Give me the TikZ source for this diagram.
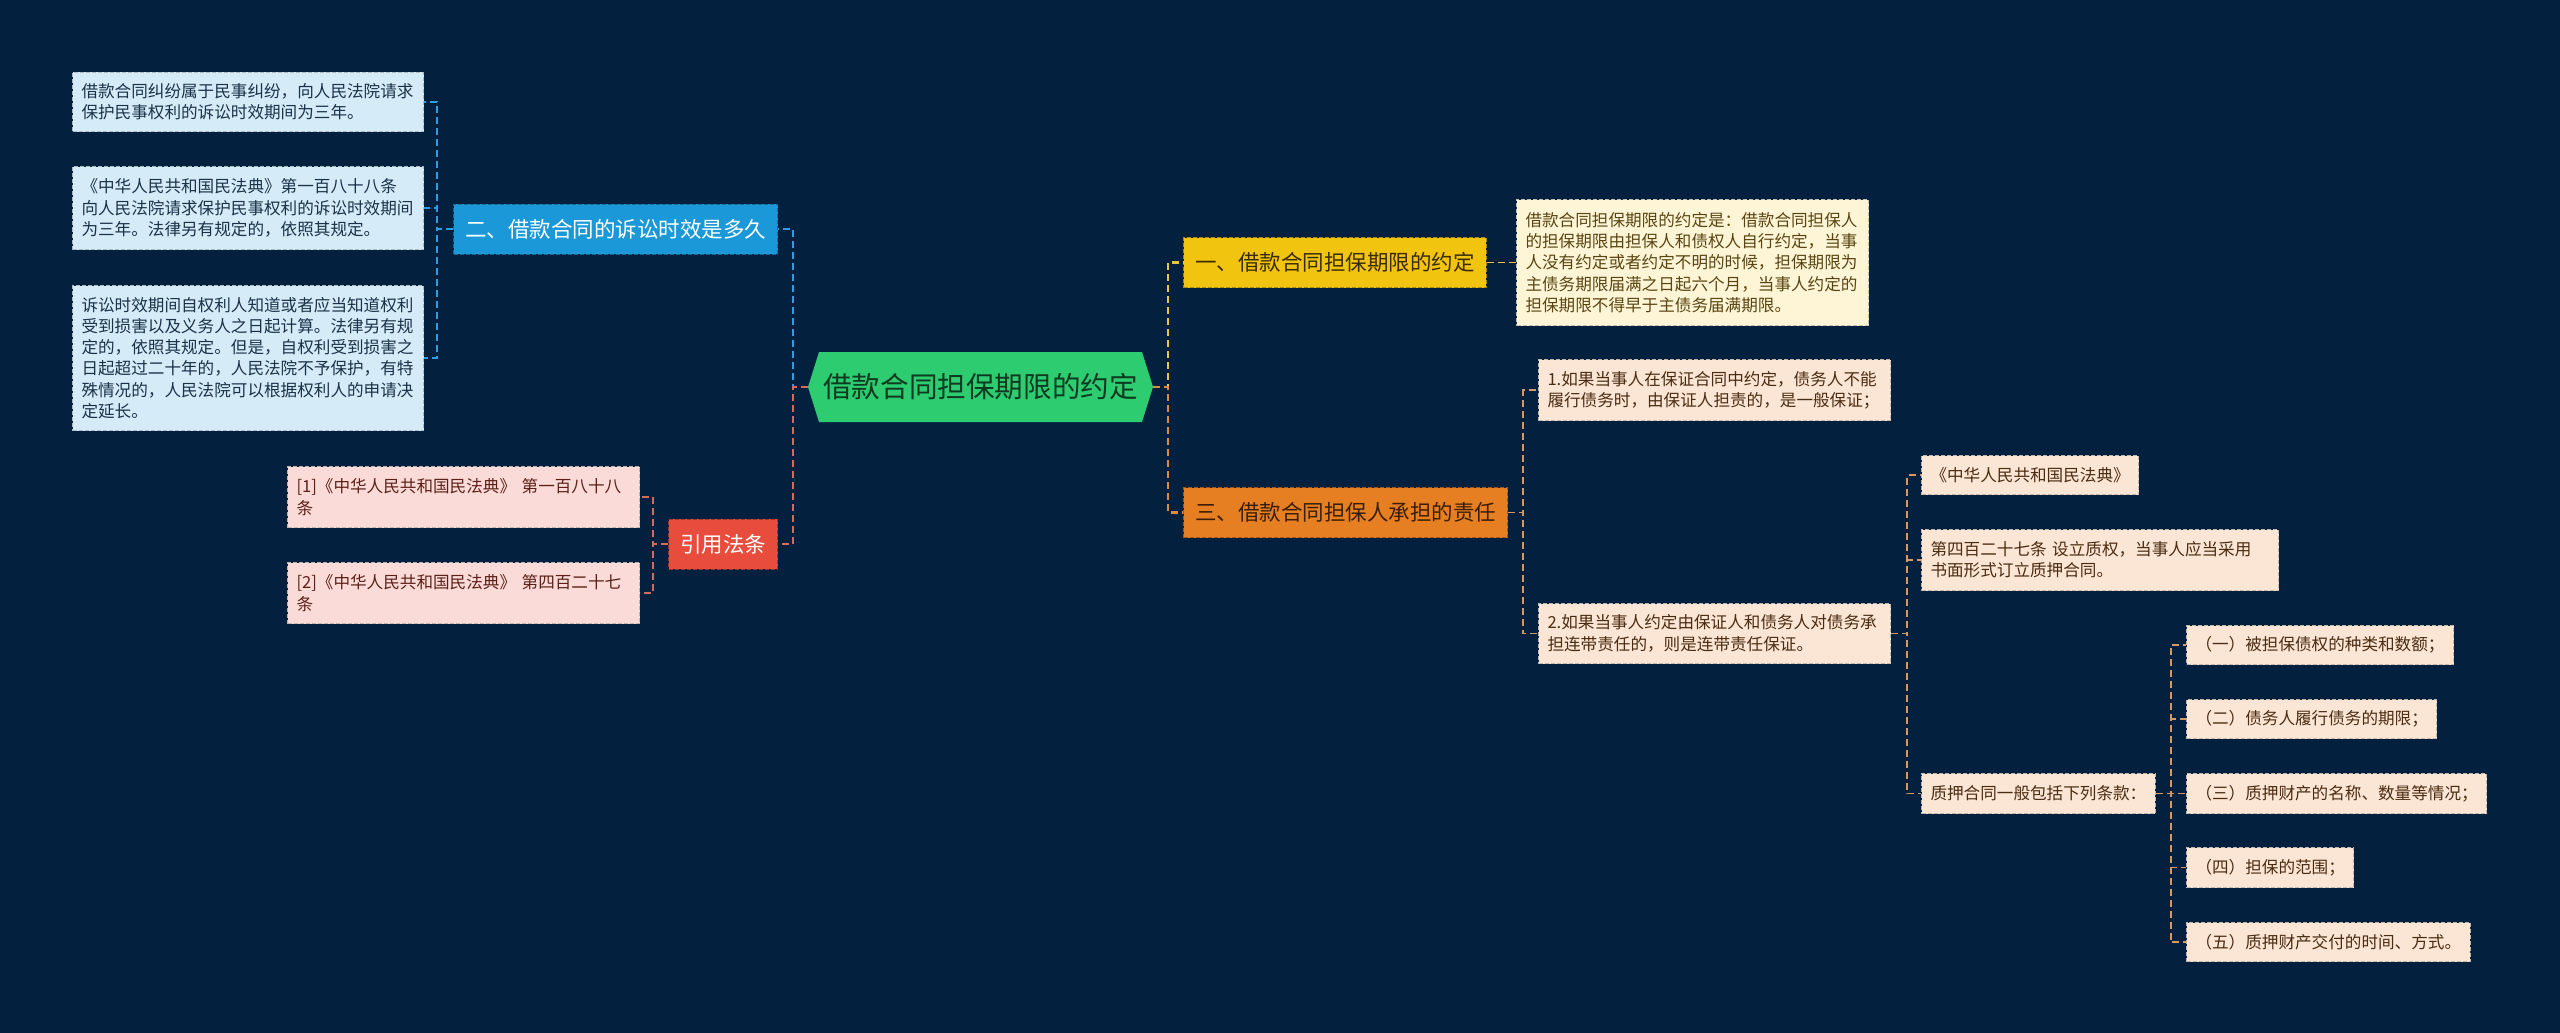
\documentclass[tikz,border=0pt]{standalone}
\usepackage{fontspec}
\setmainfont{Noto Sans CJK SC}
\definecolor{bgc}{HTML}{03203F}
\definecolor{rootc}{HTML}{2ECC71}
\definecolor{roott}{HTML}{0E3A20}
\definecolor{bluec}{HTML}{1A98D8}
\definecolor{redc}{HTML}{E74C3C}
\definecolor{yelc}{HTML}{F1C40F}
\definecolor{orac}{HTML}{E67E22}
\definecolor{yelt}{HTML}{3B2C05}
\definecolor{orat}{HTML}{3A1E05}
\definecolor{lblue}{HTML}{D5ECF8}
\definecolor{lpink}{HTML}{FADBD8}
\definecolor{lcream}{HTML}{FDF5D6}
\definecolor{lpeach}{HTML}{FBE5D4}
\definecolor{tblue}{HTML}{1B3148}
\definecolor{tpink}{HTML}{5C2018}
\definecolor{tcream}{HTML}{5A4512}
\definecolor{tpeach}{HTML}{4A2C12}
\definecolor{lnb}{HTML}{2A9FE3}
\definecolor{lnr}{HTML}{D9695B}
\definecolor{lny}{HTML}{EAC544}
\definecolor{lno}{HTML}{E08A3C}
\definecolor{lnt}{HTML}{D59A63}
\tikzset{
  l1/.style 2 args={fill=#1, draw=#1!70!black, text=#2, line width=1pt,
    dash pattern=on 4pt off 2pt, inner xsep=11.5pt, inner ysep=0pt,
    minimum height=50pt, font=\fontsize{21.5}{26}\selectfont},
  leaf/.style 2 args={fill=#1, draw=#1!55!gray, text=#2, line width=1pt,
    dash pattern=on 4pt off 2pt, inner xsep=9pt, inner ysep=3pt, align=left,
    anchor=north west, font=\fontsize{16.6}{21.3}\selectfont},
  conn/.style={line width=2.4pt, dash pattern=on 7pt off 4pt},
  conn2/.style={line width=1.8pt, dash pattern=on 7pt off 4pt},
}
\begin{document}
\begin{tikzpicture}[x=1pt,y=-1pt]
\path[use as bounding box, fill=bgc] (0,0) rectangle (2560,1033);

% root
\node[minimum width=345pt, minimum height=70pt, inner sep=0pt, text=roott,
  font=\fontsize{28.6}{34}\selectfont,
  path picture={\fill[rootc] (path picture bounding box.west)
    -- ([xshift=11pt]path picture bounding box.north west)
    -- ([xshift=-11pt]path picture bounding box.north east)
    -- (path picture bounding box.east)
    -- ([xshift=-11pt]path picture bounding box.south east)
    -- ([xshift=11pt]path picture bounding box.south west) -- cycle;}]
  (root) at (980.5,387) {借款合同担保期限的约定};

% level 1
\node[l1={bluec}{white}, anchor=east] (n2) at (778,229) {二、借款合同的诉讼时效是多久};
\node[l1={redc}{white}, anchor=east] (n4) at (778,544) {引用法条};
\node[l1={yelc}{yelt}, anchor=west] (n1) at (1183,262.5) {一、借款合同担保期限的约定};
\node[l1={orac}{orat}, anchor=west] (n3) at (1183,512.5) {三、借款合同担保人承担的责任};

% left leaves
\node[leaf={lblue}{tblue}, text width=333pt, minimum height=59pt] (a1) at (72,72)
  {借款合同纠纷属于民事纠纷，向人民法院请求\\保护民事权利的诉讼时效期间为三年。};
\node[leaf={lblue}{tblue}, text width=333pt, minimum height=83pt] (a2) at (72,166)
  {《中华人民共和国民法典》第一百八十八条\\向人民法院请求保护民事权利的诉讼时效期间\\为三年。法律另有规定的，依照其规定。};
\node[leaf={lblue}{tblue}, text width=333pt, minimum height=145pt] (a3) at (72,285)
  {诉讼时效期间自权利人知道或者应当知道权利\\受到损害以及义务人之日起计算。法律另有规\\定的，依照其规定。但是，自权利受到损害之\\日起超过二十年的，人民法院不予保护，有特\\殊情况的，人民法院可以根据权利人的申请决\\定延长。};
\node[leaf={lpink}{tpink}, text width=334pt, minimum height=61pt] (c1) at (287,466)
  {[1]《中华人民共和国民法典》 第一百八十八\\条};
\node[leaf={lpink}{tpink}, text width=334pt, minimum height=61pt] (c2) at (287,562)
  {[2]《中华人民共和国民法典》 第四百二十七\\条};

% right leaves
\node[leaf={lcream}{tcream}, text width=334pt, minimum height=126pt, anchor=west] (d1) at (1516,262.5)
  {借款合同担保期限的约定是：借款合同担保人\\的担保期限由担保人和债权人自行约定，当事\\人没有约定或者约定不明的时候，担保期限为\\主债务期限届满之日起六个月，当事人约定的\\担保期限不得早于主债务届满期限。};
\node[leaf={lpeach}{tpeach}, text width=334pt, minimum height=61pt] (b1) at (1538,359)
  {1.如果当事人在保证合同中约定，债务人不能\\履行债务时，由保证人担责的，是一般保证；};
\node[leaf={lpeach}{tpeach}, text width=334pt, minimum height=60pt] (b2) at (1538,603)
  {2.如果当事人约定由保证人和债务人对债务承\\担连带责任的，则是连带责任保证。};
\node[leaf={lpeach}{tpeach}, minimum height=39pt] (e1) at (1921,455)
  {《中华人民共和国民法典》};
\node[leaf={lpeach}{tpeach}, text width=339pt, minimum height=61pt] (e2) at (1921,529)
  {第四百二十七条 设立质权，当事人应当采用\\书面形式订立质押合同。};
\node[leaf={lpeach}{tpeach}, minimum height=40pt] (e3) at (1921,773)
  {质押合同一般包括下列条款：};
\node[leaf={lpeach}{tpeach}, minimum height=39pt] (f1) at (2186,625)
  {（一）被担保债权的种类和数额；};
\node[leaf={lpeach}{tpeach}, minimum height=39pt] (f2) at (2186,699)
  {（二）债务人履行债务的期限；};
\node[leaf={lpeach}{tpeach}, minimum height=40pt] (f3) at (2186,773)
  {（三）质押财产的名称、数量等情况；};
\node[leaf={lpeach}{tpeach}, minimum height=40pt] (f4) at (2186,847)
  {（四）担保的范围；};
\node[leaf={lpeach}{tpeach}, minimum height=39pt] (f5) at (2186,922)
  {（五）质押财产交付的时间、方式。};

% connectors from root
\draw[conn, lnb] (root.west) -- ++(-15,0) |- (n2.east);
\draw[conn, lnr] (root.west) -- ++(-15,0) |- (n4.east);
\draw[conn, lny] (root.east) -- ++(15,0) |- (n1.west);
\draw[conn, lno] (root.east) -- ++(15,0) |- (n3.west);

% left branches
\draw[conn2, lnb] (n2.west) -- ++(-16,0) |- (a1.east);
\draw[conn2, lnb] (n2.west) -- ++(-16,0) |- (a2.east);
\draw[conn2, lnb] (n2.west) -- ++(-16,0) |- (a3.east);
\draw[conn2, lnr] (n4.west) -- ++(-15,0) |- (c1.east);
\draw[conn2, lnr] (n4.west) -- ++(-15,0) |- (c2.east);

% right branches
\draw[conn2, lny] (n1.east) -- (d1.west);
\draw[conn2, lnt] (n3.east) -- ++(15,0) |- (b1.west);
\draw[conn2, lnt] (n3.east) -- ++(15,0) |- (b2.west);
\draw[conn2, lnt] (b2.east) -- ++(16,0) |- (e1.west);
\draw[conn2, lnt] (b2.east) -- ++(16,0) |- (e2.west);
\draw[conn2, lnt] (b2.east) -- ++(16,0) |- (e3.west);
\draw[conn2, lnt] (e3.east) -- ++(15,0) |- (f1.west);
\draw[conn2, lnt] (e3.east) -- ++(15,0) |- (f2.west);
\draw[conn2, lnt] (e3.east) -- ++(15,0) |- (f3.west);
\draw[conn2, lnt] (e3.east) -- ++(15,0) |- (f4.west);
\draw[conn2, lnt] (e3.east) -- ++(15,0) |- (f5.west);
\end{tikzpicture}
\end{document}
